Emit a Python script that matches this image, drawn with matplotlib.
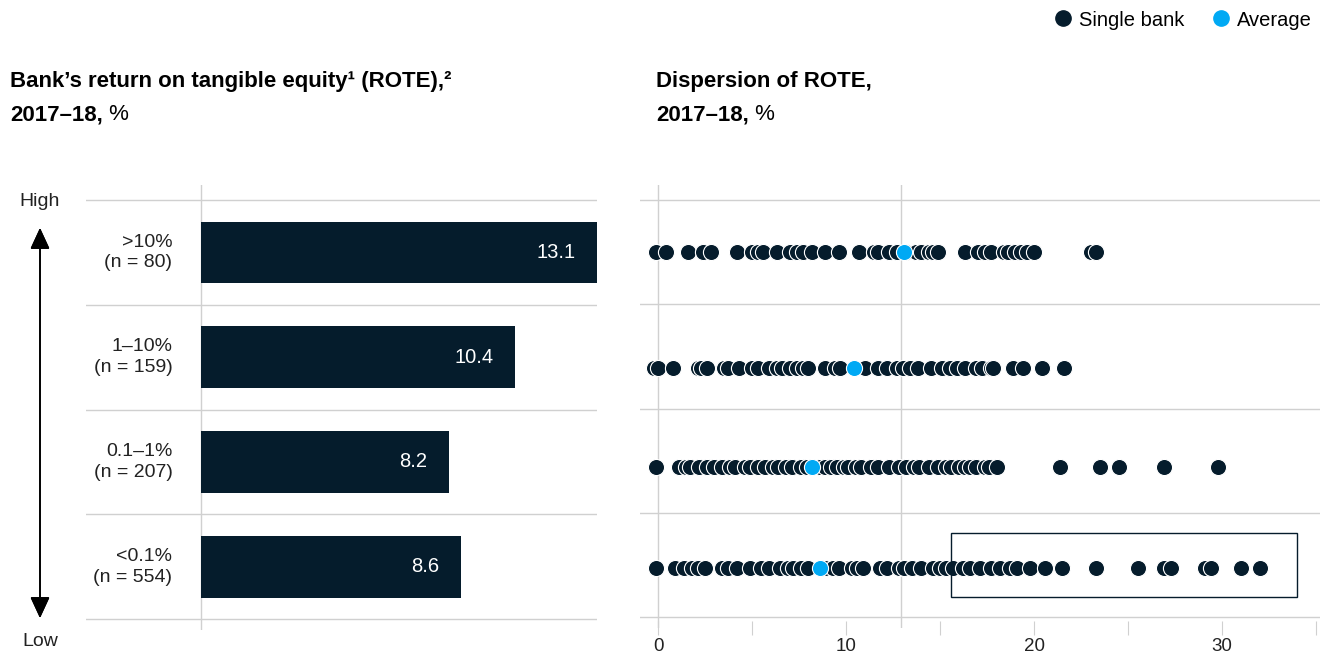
import matplotlib.pyplot as plt
from matplotlib.patches import Rectangle
from matplotlib.lines import Line2D

plt.rcParams['font.family'] = ['Liberation Sans', 'DejaVu Sans']

# data
groups = ['>10%\n(n = 80)', '1–10%\n(n = 159)', '0.1–1%\n(n = 207)', '<0.1%\n(n = 554)']
rote_avg = [13.1, 10.4, 8.2, 8.6]

banks_gt10 = [-0.1, 0.4, 1.6, 2.4, 2.8, 4.2, 5.0, 5.3, 5.6, 6.3, 7.0, 7.4, 7.7, 8.2, 8.9,
              9.6, 10.7, 11.5, 11.7, 12.3, 12.7, 13.2, 13.7, 14.0, 14.4, 14.6, 14.9, 16.3,
              17.0, 17.4, 17.7, 18.4, 18.6, 19.0, 19.3, 19.6, 20.0, 23.0, 23.3]
banks_1_10 = [-0.2, 0.0, 0.8, 2.1, 2.3, 2.6, 3.5, 3.7, 4.3, 5.0, 5.3, 5.9, 6.3, 6.6, 7.0,
              7.4, 7.7, 8.0, 8.9, 9.4, 9.7, 11.0, 11.7, 12.2, 12.7, 13.0, 13.4, 13.8, 14.5,
              15.1, 15.5, 15.9, 16.3, 16.9, 17.2, 17.7, 17.8, 18.9, 19.4, 20.4, 21.6]
banks_01_1 = [-0.1, 1.1, 1.5, 1.7, 2.2, 2.6, 3.0, 3.4, 3.8, 4.1, 4.6, 4.9, 5.3, 5.7, 6.1,
              6.4, 6.8, 7.1, 7.6, 7.9, 8.6, 8.9, 9.2, 9.5, 9.9, 10.1, 10.5, 10.8, 11.3, 11.7,
              12.3, 12.8, 13.2, 13.6, 13.9, 14.4, 14.9, 15.3, 15.6, 16.0, 16.3, 16.6, 16.9,
              17.4, 17.6, 18.0, 21.4, 23.5, 24.5, 26.9, 29.8]
banks_lt01 = [-0.1, 0.9, 1.4, 1.8, 2.1, 2.5, 3.4, 3.7, 4.2, 4.9, 5.5, 5.9, 6.5, 6.9, 7.2,
              7.6, 8.0, 8.9, 9.3, 9.6, 10.3, 10.6, 10.9, 11.8, 12.2, 12.8, 13.1, 13.5, 14.0,
              14.6, 15.0, 15.3, 15.7, 16.2, 16.6, 17.1, 17.7, 18.2, 18.7, 19.1, 19.8, 20.6,
              21.5, 23.3, 25.5, 26.9, 27.3, 29.1, 29.4, 31.0, 32.0]
banks = [banks_gt10, banks_1_10, banks_01_1, banks_lt01]
overall_line = 12.9
x_ticks = [0, 10, 20, 30]

navy = '#051C2C'
cyan = '#00A9F4'
grid = '#D0D0D0'
txt = '#222222'

W, H = 1325, 656
fig = plt.figure(figsize=(W / 100, H / 100), dpi=100)


def fx(p):
    return p / W


def fy(p):
    return 1 - p / H


ytop, ybot = -0.644, 3.604

# left panel: bars
axl = fig.add_axes([fx(86), fy(630), fx(597 - 86), (630 - 185) / H])
rows = list(range(len(groups)))
axl.barh(rows, rote_avg, height=0.59, color=navy, zorder=2)
for r, v in zip(rows, rote_avg):
    axl.text(v - 0.72, r, f'{v}', color='white', ha='right', va='center', fontsize=14.5)
    axl.text(-0.95, r, groups[r], color=txt, ha='right', va='center', fontsize=14,
             linespacing=1.3)
for s in range(len(groups) + 1):
    axl.axhline(s - 0.5, color=grid, lw=1, zorder=1)
axl.axvline(0, color=grid, lw=1, zorder=1)
axl.set_xlim(-3.81, 13.1)
axl.set_ylim(ybot, ytop)
axl.axis('off')

# right panel: dot strips
axr = fig.add_axes([fx(640), fy(628), fx(1320 - 640), (628 - 185) / H])
row_off = [0.0, 0.11, 0.06, 0.03]
for r, vals in enumerate(banks):
    yy = r + row_off[r]
    axr.scatter(vals, [yy] * len(vals), s=135, color=navy, edgecolor='white',
                linewidth=0.8, zorder=3)
    axr.scatter([rote_avg[r]], [yy], s=135, color=cyan, edgecolor='white',
                linewidth=0.8, zorder=4)
for s in range(len(groups) + 1):
    axr.axhline(s - 0.5, color=grid, lw=1, zorder=1)
axr.axvline(0, color=grid, lw=1, zorder=1)
axr.axvline(overall_line, color=grid, lw=1, zorder=1)
axr.add_patch(Rectangle((15.6, 2.69), 34.0 - 15.6, 0.62, fill=False, edgecolor=navy,
                        lw=1, zorder=5))
axr.set_xlim(-0.96, 35.2)
axr.set_ylim(ybot, ytop)
axr.set_xticks(range(0, 36, 5))
axr.set_xticklabels([str(t) if t in x_ticks else '' for t in range(0, 36, 5)],
                    fontsize=13.5, color=txt)
axr.tick_params(axis='x', direction='inout', length=10, color=grid, pad=2)
axr.set_yticks([])
for sp in axr.spines.values():
    sp.set_visible(False)

# titles
fig.text(fx(10), fy(82), 'Bank’s return on tangible equity¹ (ROTE),²',
         fontsize=16, fontweight='bold', color='black', va='center')
t2 = fig.text(fx(10), fy(115), '2017–18,', fontsize=16, fontweight='bold',
              color='black', va='center')
fig.text(fx(656), fy(82), 'Dispersion of ROTE,', fontsize=16, fontweight='bold',
         color='black', va='center')
t4 = fig.text(fx(656), fy(115), '2017–18,', fontsize=16, fontweight='bold',
              color='black', va='center')
for t in (t2, t4):
    plt.annotate(' %', xy=(1, 0), xycoords=t, va='bottom', ha='left', fontsize=16,
                 color='black')

# high / low arrow
fig.text(fx(40), fy(201), 'High', ha='center', va='center', fontsize=14, color=txt)
fig.text(fx(40), fy(642), 'Low', ha='center', va='center', fontsize=14, color=txt)
fig.add_artist(plt.annotate('', xy=(fx(40), fy(618)), xytext=(fx(40), fy(228)),
                            xycoords='figure fraction',
                            arrowprops=dict(arrowstyle='<|-|>,head_width=0.3,head_length=0.65',
                                            mutation_scale=20, color='black', lw=1.2,
                                            shrinkA=0, shrinkB=0)))

# legend
handles = [Line2D([], [], marker='o', ls='', color=navy, markersize=11, label='Single bank'),
           Line2D([], [], marker='o', ls='', color=cyan, markersize=11, label='Average')]
fig.legend(handles=handles, loc='center right', bbox_to_anchor=(fx(1320), fy(20)),
           ncol=2, frameon=False, fontsize=14.5, handletextpad=0.2, columnspacing=1.2,
           borderaxespad=0, handlelength=1.2)

fig.savefig('out.png', dpi=100)
